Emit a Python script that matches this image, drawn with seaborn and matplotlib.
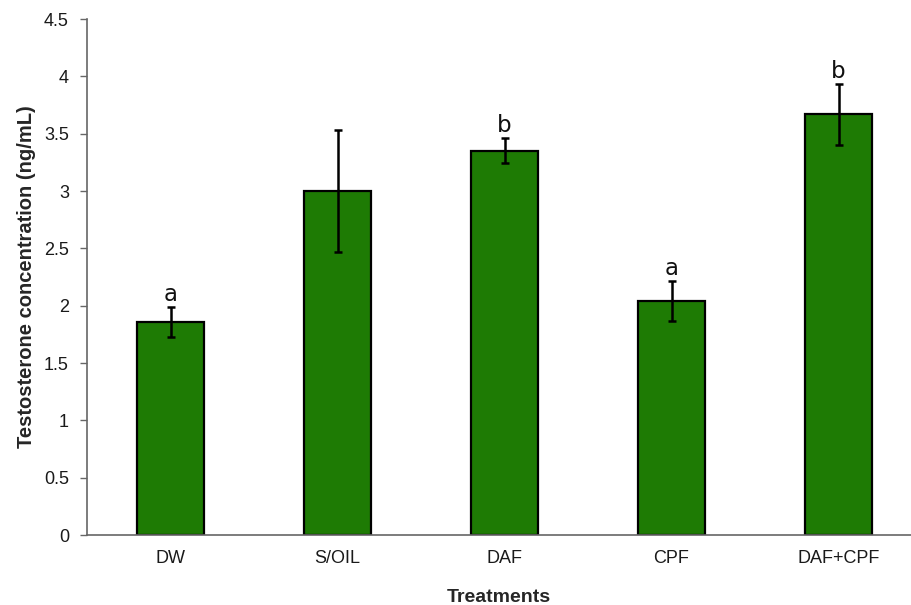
import matplotlib
matplotlib.use("Agg")
import matplotlib.pyplot as plt
import seaborn as sns
import pandas as pd
import numpy as np

treatments = ["DW", "S/OIL", "DAF", "CPF", "DAF+CPF"]
means = [1.86, 3.00, 3.35, 2.04, 3.67]
errors = [0.13, 0.535, 0.11, 0.175, 0.265]
letters = ["a", "", "b", "a", "b"]
yticks = [0, 0.5, 1, 1.5, 2, 2.5, 3, 3.5, 4, 4.5]
ytick_labels = ["0", "0.5", "1", "1.5", "2", "2.5", "3", "3.5", "4", "4.5"]

sns.set_style("white")
plt.rcParams["font.family"] = ["Liberation Sans", "DejaVu Sans"]

df = pd.DataFrame({"Treatment": treatments, "Mean": means})

fig = plt.figure(figsize=(9.11, 6.05), dpi=100)
ax = fig.add_axes([87 / 911, 70 / 605, 1 - 87 / 911, 516 / 605])

sns.barplot(data=df, x="Treatment", y="Mean", color="#1e7b04", width=0.4,
            edgecolor="black", linewidth=1.6, saturation=1, ax=ax, errorbar=None)
xs = np.arange(len(treatments))
ax.errorbar(xs, means, yerr=errors, fmt="none", ecolor="black",
            elinewidth=1.8, capsize=3.2, capthick=1.8)
for x, m, e, l in zip(xs, means, errors, letters):
    if l:
        ax.annotate(l, (x, m + e), xytext=(0, 6), textcoords="offset pixels",
                    ha="center", va="baseline", fontsize=16.5,
                    family=["DejaVu Sans"], color="#111111")

ax.set_ylim(0, 4.5)
ax.set_xlim(-0.5, 4.434)
ax.set_yticks(yticks)
ax.set_yticklabels(ytick_labels, fontsize=13, color="#1a1a1a")
ax.set_xticks(xs)
ax.set_xticklabels(treatments, fontsize=13, color="#1a1a1a")
ax.set_xticks(np.arange(0.5, 4.0, 1.0), minor=True)
ax.tick_params(axis="x", which="major", length=0, pad=11)
ax.tick_params(axis="x", which="minor", length=5, width=1, color="#666666", direction="out")
ax.tick_params(axis="y", length=5, width=1, color="#666666", direction="out", left=True, pad=8)

for s in ["top", "right"]:
    ax.spines[s].set_visible(False)
for s in ["left", "bottom"]:
    ax.spines[s].set_color("#666666")
    ax.spines[s].set_linewidth(1.2)

ax.set_ylabel("Testosterone concentration (ng/mL)", fontsize=14.5, fontweight="bold", labelpad=6)
ax.set_xlabel("Treatments", fontsize=14, fontweight="bold", labelpad=16)

fig.savefig("out.png", dpi=100)
